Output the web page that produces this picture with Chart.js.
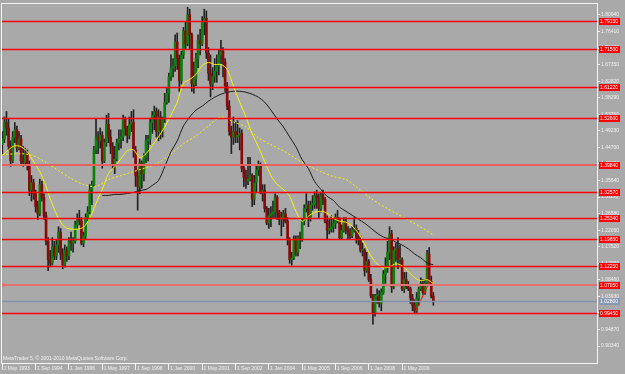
<!DOCTYPE html>
<html>
<head>
<meta charset="utf-8">
<script src="https://cdn.jsdelivr.net/npm/chart.js@4/dist/chart.umd.min.js"></script>
<style>
html, body { margin: 0; padding: 0; background: #a9a9a9; }
canvas { display: block; }
</style>
</head>
<body>
<canvas id="chart" width="625" height="374"></canvas>
<script>
// USDCHF monthly candles, index 0 = May 1993 ... 207 = Aug 2010
const open = [
  1.455,1.470,1.515,1.500,1.450,1.410,1.475,1.495,
  1.445,1.470,1.410,1.405,1.430,1.400,1.330,1.350,1.320,1.285,1.265,1.345,
  1.310,1.260,1.190,1.140,1.130,1.175,1.150,1.180,1.215,1.155,1.125,1.165,
  1.150,1.190,1.185,1.190,1.235,1.250,1.245,1.185,1.205,1.255,1.270,1.330,
  1.345,1.440,1.475,1.465,1.480,1.410,1.460,1.510,1.475,1.450,1.400,1.415,
  1.460,1.470,1.475,1.525,1.500,1.480,1.510,1.515,1.440,1.370,1.340,1.405,
  1.375,1.420,1.465,1.470,1.515,1.535,1.545,1.490,1.530,1.495,1.525,1.570,
  1.595,1.640,1.665,1.670,1.735,1.690,1.630,1.700,1.765,1.730,1.810,1.755,
  1.620,1.635,1.690,1.740,1.730,1.790,1.800,1.705,1.650,1.620,1.640,1.655,
  1.670,1.700,1.710,1.680,1.615,1.560,1.490,1.475,1.490,1.475,1.480,1.485,
  1.390,1.365,1.355,1.360,1.370,1.305,1.350,1.385,1.400,1.325,1.330,1.280,
  1.240,1.260,1.265,1.270,1.310,1.270,1.250,1.255,1.265,1.245,1.195,1.140,
  1.145,1.195,1.160,1.200,1.195,1.245,1.280,1.290,1.255,1.290,1.290,1.315,
  1.310,1.280,1.315,1.305,1.245,1.220,1.225,1.230,1.240,1.255,1.250,1.200,
  1.220,1.245,1.220,1.215,1.205,1.220,1.225,1.200,1.195,1.165,1.165,1.110,
  1.135,1.085,1.040,0.995,1.040,1.040,1.020,1.050,1.100,1.120,1.160,1.210,
  1.065,1.165,1.170,1.140,1.140,1.060,1.085,1.065,1.060,1.035,1.015,1.000,
  1.035,1.060,1.075,1.050,1.075,1.155,1.080,1.040
];
const high = [
  1.490,1.530,1.545,1.525,1.465,1.490,1.515,1.505,
  1.490,1.480,1.450,1.445,1.440,1.410,1.370,1.360,1.330,1.300,1.360,1.355,
  1.320,1.270,1.200,1.165,1.200,1.190,1.195,1.230,1.225,1.170,1.180,1.175,
  1.200,1.215,1.200,1.245,1.265,1.275,1.255,1.215,1.265,1.285,1.345,1.355,
  1.450,1.525,1.490,1.500,1.490,1.470,1.535,1.540,1.495,1.460,1.450,1.470,
  1.495,1.495,1.535,1.530,1.505,1.530,1.545,1.550,1.450,1.385,1.415,1.410,
  1.430,1.480,1.480,1.525,1.545,1.560,1.555,1.550,1.545,1.530,1.595,1.610,
  1.650,1.700,1.690,1.755,1.760,1.700,1.710,1.775,1.790,1.830,1.825,1.760,
  1.680,1.705,1.755,1.770,1.805,1.825,1.820,1.720,1.700,1.665,1.690,1.700,
  1.715,1.740,1.720,1.690,1.625,1.575,1.505,1.530,1.515,1.520,1.500,1.495,
  1.400,1.385,1.420,1.420,1.375,1.370,1.400,1.410,1.405,1.345,1.345,1.285,
  1.280,1.285,1.300,1.320,1.315,1.275,1.270,1.275,1.280,1.255,1.200,1.160,
  1.205,1.205,1.205,1.215,1.250,1.290,1.320,1.300,1.300,1.315,1.325,1.330,
  1.320,1.325,1.330,1.310,1.260,1.250,1.260,1.250,1.265,1.275,1.255,1.235,
  1.255,1.255,1.230,1.225,1.230,1.255,1.235,1.220,1.205,1.185,1.170,1.160,
  1.140,1.100,1.045,1.045,1.060,1.055,1.060,1.110,1.145,1.190,1.230,1.220,
  1.175,1.185,1.200,1.180,1.145,1.105,1.105,1.080,1.065,1.045,1.030,1.050,
  1.065,1.090,1.085,1.085,1.165,1.173,1.095,1.050
];
const low = [
  1.425,1.460,1.480,1.440,1.395,1.405,1.460,1.435,
  1.440,1.400,1.395,1.400,1.385,1.315,1.300,1.305,1.270,1.250,1.260,1.300,
  1.250,1.180,1.110,1.120,1.125,1.140,1.140,1.160,1.140,1.115,1.120,1.135,
  1.140,1.165,1.160,1.185,1.225,1.235,1.180,1.175,1.195,1.245,1.265,1.290,
  1.340,1.430,1.430,1.445,1.390,1.405,1.450,1.460,1.430,1.390,1.375,1.410,
  1.440,1.445,1.465,1.480,1.460,1.470,1.490,1.420,1.340,1.275,1.320,1.335,
  1.355,1.405,1.410,1.455,1.485,1.495,1.475,1.465,1.470,1.475,1.515,1.565,
  1.570,1.630,1.640,1.655,1.660,1.600,1.620,1.690,1.715,1.725,1.715,1.600,
  1.595,1.615,1.665,1.700,1.725,1.755,1.690,1.630,1.585,1.605,1.625,1.625,
  1.645,1.675,1.640,1.600,1.550,1.480,1.430,1.455,1.460,1.460,1.440,1.380,
  1.340,1.335,1.345,1.355,1.285,1.290,1.325,1.370,1.320,1.300,1.270,1.235,
  1.225,1.230,1.255,1.255,1.250,1.235,1.205,1.230,1.240,1.180,1.130,1.125,
  1.140,1.150,1.150,1.170,1.190,1.235,1.270,1.230,1.245,1.275,1.280,1.280,
  1.255,1.270,1.290,1.240,1.195,1.210,1.215,1.215,1.225,1.240,1.195,1.195,
  1.215,1.210,1.195,1.195,1.200,1.215,1.185,1.180,1.160,1.150,1.095,1.105,
  1.080,1.035,0.963,0.985,1.020,1.010,1.000,1.045,1.075,1.105,1.140,1.050,
  1.060,1.135,1.115,1.125,1.055,1.050,1.060,1.055,1.020,1.000,0.992,0.995,
  1.015,1.055,1.045,1.045,1.070,1.075,1.035,1.015
];
const close = [
  1.470,1.515,1.500,1.450,1.410,1.475,1.495,1.445,
  1.470,1.410,1.405,1.430,1.400,1.330,1.350,1.320,1.285,1.265,1.345,1.310,
  1.260,1.190,1.140,1.130,1.175,1.150,1.180,1.215,1.155,1.125,1.165,1.150,
  1.190,1.185,1.190,1.235,1.250,1.245,1.185,1.205,1.255,1.270,1.330,1.345,
  1.440,1.475,1.465,1.480,1.410,1.460,1.510,1.475,1.450,1.400,1.415,1.460,
  1.470,1.475,1.525,1.500,1.480,1.510,1.515,1.440,1.370,1.340,1.405,1.375,
  1.420,1.465,1.470,1.515,1.535,1.545,1.490,1.530,1.495,1.525,1.570,1.595,
  1.640,1.665,1.670,1.735,1.690,1.630,1.700,1.765,1.730,1.810,1.755,1.620,
  1.635,1.690,1.740,1.730,1.790,1.800,1.705,1.650,1.620,1.640,1.655,1.670,
  1.700,1.710,1.680,1.615,1.560,1.490,1.475,1.490,1.475,1.480,1.485,1.390,
  1.365,1.355,1.360,1.370,1.305,1.350,1.385,1.400,1.325,1.330,1.280,1.240,
  1.260,1.265,1.270,1.310,1.270,1.250,1.255,1.265,1.245,1.195,1.140,1.145,
  1.195,1.160,1.200,1.195,1.245,1.280,1.290,1.255,1.290,1.290,1.315,1.310,
  1.280,1.315,1.305,1.245,1.220,1.225,1.230,1.240,1.255,1.250,1.200,1.220,
  1.245,1.220,1.215,1.205,1.220,1.225,1.200,1.195,1.165,1.165,1.110,1.135,
  1.085,1.040,0.995,1.040,1.040,1.020,1.050,1.100,1.120,1.160,1.210,1.065,
  1.165,1.170,1.140,1.140,1.060,1.085,1.065,1.060,1.035,1.015,1.000,1.035,
  1.060,1.075,1.050,1.075,1.155,1.080,1.040,1.025
];

// moving averages (month index -> value)
const fastMonths = [0,3,6,9,12,15,18,21,24,27,30,33,36,39,42,45,48,51,54,57,60,63,66,69,
  72,75,78,81,84,87,90,93,96,99,102,105,108,111,114,117,120,123,126,129,132,135,138,141,
  144,147,150,153,156,159,162,165,168,171,174,177,180,183,186,189,192,195,198,201,204,207];
const fastMA = [1.4242,1.4404,1.4513,1.4486,1.4350,1.4079,1.3807,1.3401,1.2912,1.2532,1.2288,1.2234,
  1.2234,1.2288,1.2532,1.2939,1.3319,1.3753,1.3943,1.4160,1.4377,1.4404,1.4187,1.4296,
  1.4513,1.4757,1.5028,1.5354,1.5707,1.6222,1.6331,1.6466,1.6710,1.6792,1.6737,1.6737,
  1.6602,1.6141,1.5707,1.5300,1.4838,1.4486,1.4079,1.3699,1.3455,1.3319,1.3129,1.2722,
  1.2451,1.2587,1.2695,1.2722,1.2668,1.2532,1.2451,1.2424,1.2315,1.2125,1.1827,1.1501,
  1.1284,1.1176,1.1203,1.1284,1.1230,1.1067,1.0905,1.0823,1.0850,1.0742];
const midMonths = [48,51,54,57,60,63,66,69,72,75,78,81,84,87,90,93,96,99,102,105,108,111,
  114,117,120,123,126,129,132,135,138,141,144,147,150,153,156,159,162,165,168,171,174,177,
  180,183,186,189,192,195,198,201,204,207];
const midMA = [1.3156,1.3156,1.3183,1.3183,1.3211,1.3238,1.3292,1.3319,1.3428,1.3563,1.3943,1.4350,
  1.4648,1.5055,1.5300,1.5490,1.5598,1.5734,1.5842,1.5924,1.5978,1.6005,1.6005,1.5978,
  1.5924,1.5842,1.5707,1.5490,1.5245,1.5028,1.4757,1.4486,1.4133,1.3889,1.3536,1.3319,
  1.3129,1.3021,1.2831,1.2722,1.2614,1.2505,1.2397,1.2261,1.2125,1.2017,1.1963,1.1881,
  1.1800,1.1691,1.1556,1.1447,1.1311,1.1257];
const slowMonths = [0,9,15,21,27,33,39,45,51,57,63,69,75,81,87,93,99,105,111,117,123,129,
  135,141,147,153,159,165,171,177,183,189,195,201,207];
const slowMA = [1.4269,1.4296,1.4242,1.4052,1.3835,1.3618,1.3455,1.3401,1.3590,1.3699,1.3807,1.3916,
  1.4052,1.4296,1.4567,1.4784,1.5055,1.5300,1.5164,1.5028,1.4730,1.4540,1.4377,1.4160,
  1.3970,1.3807,1.3672,1.3590,1.3346,1.3075,1.2858,1.2668,1.2478,1.2288,1.2071];

// trend line from the late-2009 low
const trendMonths = [198.2, 205.4];
const trendValues = [0.9955, 1.0823];

// horizontal price levels
const levels = [1.7915, 1.7150, 1.6122, 1.5260, 1.3984, 1.3257, 1.2534, 1.1965, 1.1225, 1.0705, 1.0280, 0.9945];

// axis ticks
const timeTickMonths = [0,16,32,48,64,80,96,112,128,144,160,176,192];
const timeLabels = ['1 May 1993','1 Sep 1994','1 Jan 1996','1 May 1997','1 Sep 1998','1 Jan 2000',
  '1 May 2001','1 Sep 2002','1 Jan 2004','1 May 2005','1 Sep 2006','1 Jan 2008','1 May 2009'];
const priceTicks = [1.80940,1.76410,1.71880,1.67350,1.62820,1.58290,1.53760,1.49230,1.44700,1.40170,
  1.35640,1.31110,1.26580,1.22050,1.17520,1.12990,1.08460,1.03930,0.99400,0.94870,0.90340];

// styles
const levelLineColors = ['#ff0000','#ff0000','#ff0000','#ff0000','#e86060','#ff0000','#ff0000','#ff0000','#ff0000','#e07272','#8494ad','#ff0000'];
const levelLineWidths = [1.5,1.5,1.5,1.5,2,1.5,1.5,1.5,1.5,2,1.5,1.5];
const levelBoxColors = ['#ff0000','#ff0000','#ff0000','#ff0000','#ff0000','#ff0000','#ff0000','#ff0000','#ff0000','#ff0000','#8697b0','#ff0000'];
const textColor = '#f2f2f2';
const smallFont = { family: '"Liberation Sans", Arial, sans-serif', size: 5 };

const xy = (xs, ys) => xs.map((x, i) => ({ x, y: ys[i] }));

const mtPlugin = {
  id: 'mtDecor',
  afterDraw(chart) {
    const { ctx, chartArea: a, scales: { y } } = chart;
    ctx.save();
    // level lines
    levels.forEach((v, k) => {
      const w = levelLineWidths[k];
      const py = Math.round(y.getPixelForValue(v)) + (w === 2 ? 0 : 0.5);
      ctx.strokeStyle = levelLineColors[k];
      ctx.lineWidth = w;
      ctx.beginPath();
      ctx.moveTo(a.left, py);
      ctx.lineTo(a.right, py);
      ctx.stroke();
    });
    // small marker on the pink line
    const pm = y.getPixelForValue(levels[9]);
    ctx.fillStyle = '#e07272';
    ctx.beginPath();
    ctx.arc(a.left + 1, pm, 2, 0, Math.PI * 2);
    ctx.fill();
    // frame
    ctx.strokeStyle = '#f4f4f4';
    ctx.lineWidth = 1;
    ctx.strokeRect(a.left - 0.5, a.top - 0.5, a.right - a.left + 1, a.bottom - a.top + 1);
    // price boxes
    ctx.font = '5px "Liberation Sans", Arial, sans-serif';
    ctx.textBaseline = 'middle';
    ctx.textAlign = 'left';
    levels.forEach((v, k) => {
      const py = Math.round(y.getPixelForValue(v));
      ctx.fillStyle = levelBoxColors[k];
      ctx.fillRect(a.right + 2, py - 3, 21, 7);
      ctx.fillStyle = '#ffffff';
      ctx.fillText(v.toFixed(5), a.right + 3, py + 0.5);
    });
    // copyright
    ctx.fillStyle = textColor;
    ctx.textBaseline = 'alphabetic';
    ctx.fillText('MetaTrader 5, \u00a9 2001-2010 MetaQuotes Software Corp.', a.left + 1, a.bottom - 3);
    ctx.restore();
  }
};

new Chart(document.getElementById('chart'), {
  type: 'bar',
  data: {
    datasets: [
      {
        type: 'line', label: 'fast MA', data: xy(fastMonths, fastMA),
        borderColor: '#f4f400', borderWidth: 1, pointRadius: 0, tension: 0.3
      },
      {
        type: 'line', label: 'mid MA', data: xy(midMonths, midMA),
        borderColor: '#1c1c1c', borderWidth: 1, pointRadius: 0, tension: 0.3
      },
      {
        type: 'line', label: 'slow MA', data: xy(slowMonths, slowMA),
        borderColor: '#f4f400', borderWidth: 1, borderDash: [2, 2], pointRadius: 0, tension: 0.3
      },
      {
        type: 'line', label: 'trend', data: xy(trendMonths, trendValues),
        borderColor: '#ff0000', borderWidth: 1, pointRadius: 0
      },
      {
        label: 'body',
        data: close.map((c, i) => ({ x: i, y: [open[i], c] })),
        backgroundColor: ctx => close[ctx.dataIndex] >= open[ctx.dataIndex] ? '#0b800b' : '#8a0a0a',
        borderWidth: 0, barThickness: 2, grouped: false, minBarLength: 1
      },
      {
        label: 'wick',
        data: close.map((c, i) => ({ x: i, y: [low[i], high[i]] })),
        backgroundColor: '#222222',
        borderWidth: 0, barThickness: 1, grouped: false
      }
    ]
  },
  options: {
    responsive: false,
    devicePixelRatio: 1,
    animation: false,
    layout: { padding: { left: 2, top: 1, right: 0, bottom: 0 } },
    plugins: { legend: { display: false }, tooltip: { enabled: false } },
    scales: {
      x: {
        type: 'linear', min: -0.15, max: 285.6, offset: false,
        grid: { display: true, offset: false, drawOnChartArea: false, drawTicks: true, tickLength: 7, color: textColor },
        border: { display: true, color: '#f4f4f4' },
        afterBuildTicks: s => { s.ticks = timeTickMonths.map(v => ({ value: v })); },
        afterFit: s => { s.height = 11; },
        ticks: {
          autoSkip: false, maxRotation: 0, minRotation: 0, align: 'start', padding: -4,
          color: textColor, font: smallFont,
          callback: (v, i) => ' ' + timeLabels[i]
        }
      },
      y: {
        type: 'linear', position: 'right', min: 0.8571, max: 1.8392, beginAtZero: false,
        grid: { display: true, drawOnChartArea: false, drawTicks: true, tickLength: 3, color: textColor },
        border: { display: true, color: '#f4f4f4' },
        afterBuildTicks: s => { s.ticks = priceTicks.map(v => ({ value: v })); },
        afterFit: s => { s.width = 28; },
        ticks: {
          autoSkip: false, padding: 1, color: textColor, font: smallFont,
          callback: v => v.toFixed(5)
        }
      }
    }
  },
  plugins: [mtPlugin]
});
</script>
</body>
</html>
